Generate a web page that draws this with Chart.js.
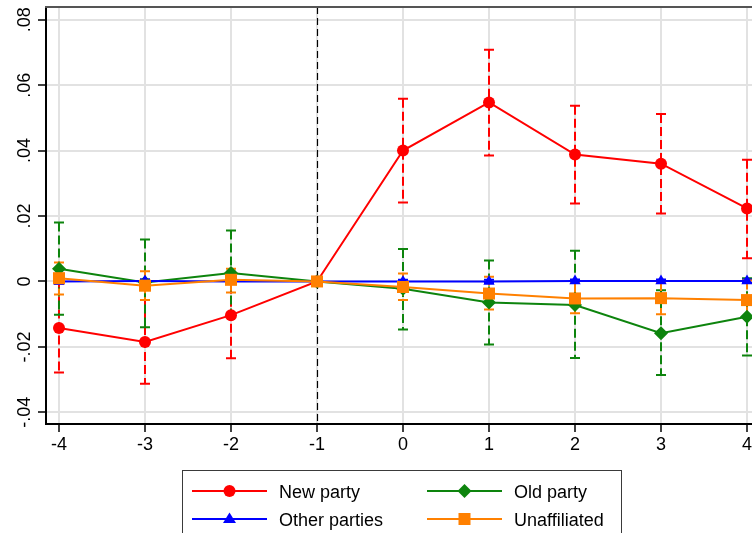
<!DOCTYPE html>
<html>
<head>
<meta charset="utf-8">
<script src="https://cdn.jsdelivr.net/npm/chart.js@4"></script>
<style>
  body { margin: 0; background: #fff; overflow: hidden; }
  #wrap { position: relative; width: 752px; height: 533px; font-family: Arial, "Liberation Sans", sans-serif; }
  #legend { position: absolute; left: 182px; top: 470px; width: 440px; height: 80px; border: 1px solid #3a3a3a; box-sizing: border-box; }
  .item { position: absolute; height: 20px; }
  .item svg { position: absolute; left: 0; }
  .item span { position: absolute; font-size: 18px; line-height: 20px; white-space: nowrap; color: #000; }
</style>
</head>
<body>
<div id="wrap">
  <canvas id="chart" width="752" height="533"></canvas>
  <div id="legend"></div>
</div>
<script>
"use strict";

// event time relative to the switch
const periods = [-4, -3, -2, -1, 0, 1, 2, 3, 4];

const newParty    = [-0.0142, -0.0185, -0.0103, 0, 0.0400, 0.0547, 0.0388, 0.0360, 0.0223];
const newPartyLo  = [-0.0278, -0.0313, -0.0235, 0, 0.0241, 0.0385, 0.0238, 0.0208, 0.0071];
const newPartyHi  = [-0.0006, -0.0057,  0.0030, 0, 0.0558, 0.0708, 0.0537, 0.0512, 0.0372];

const oldParty    = [0.0039, -0.0003, 0.0026, 0, -0.0022, -0.0064, -0.0072, -0.0158, -0.0108];
const oldPartyLo  = [-0.0102, -0.0140, -0.0104, 0, -0.0147, -0.0193, -0.0234, -0.0286, -0.0226];
const oldPartyHi  = [0.0180, 0.0128, 0.0156, 0, 0.0099, 0.0064, 0.0094, -0.0027, 0.0010];

const otherParties   = [0.0000, 0.0001, 0.0000, 0, 0.0000, 0.0000, 0.0001, 0.0001, 0.0001];
const otherPartiesLo = [-0.0006, -0.0005, -0.0006, 0, -0.0005, -0.0005, -0.0004, -0.0004, -0.0004];
const otherPartiesHi = [0.0006, 0.0007, 0.0006, 0, 0.0005, 0.0005, 0.0006, 0.0006, 0.0006];

const unaffiliated   = [0.0010, -0.0013, 0.0005, 0, -0.0017, -0.0037, -0.0052, -0.0051, -0.0057];
const unaffiliatedLo = [-0.0040, -0.0057, -0.0034, 0, -0.0057, -0.0086, -0.0097, -0.0100, -0.0110];
const unaffiliatedHi = [0.0058, 0.0031, 0.0039, 0, 0.0024, 0.0014, -0.0005, -0.0002, 0.0003];

const yTicks = [-0.04, -0.02, 0, 0.02, 0.04, 0.06, 0.08];
const yTickLabels = ["-.04", "-.02", "0", ".02", ".04", ".06", ".08"];
const xTickLabels = ["-4", "-3", "-2", "-1", "0", "1", "2", "3", "4"];

const series = [
    { label: "New party",     y: newParty,     lo: newPartyLo,     hi: newPartyHi,     color: "#ff0000", style: "circle",   radius: 6,   order: 4 },
    { label: "Old party",     y: oldParty,     lo: oldPartyLo,     hi: oldPartyHi,     color: "#0d840d", style: "rectRot",  radius: 7,   order: 3 },
    { label: "Other parties", y: otherParties, lo: otherPartiesLo, hi: otherPartiesHi, color: "#0000ff", style: "triangle", radius: 6.5, order: 2 },
    { label: "Unaffiliated",  y: unaffiliated, lo: unaffiliatedLo, hi: unaffiliatedHi, color: "#ff8000", style: "rect",     radius: 8.5, order: 1 }
];

const FONT = '18px Arial, "Liberation Sans", sans-serif';

// dashed confidence intervals with caps, reference line at -1, top frame and tick labels
const extras = {
    id: "extras",
    beforeDatasetsDraw(chart) {
        const ctx = chart.ctx;
        const xs = chart.scales.x;
        const ys = chart.scales.y;
        const area = chart.chartArea;

        ctx.save();
        ctx.strokeStyle = "#000";
        ctx.lineWidth = 1.2;
        ctx.setLineDash([7, 4]);
        const px = Math.round(xs.getPixelForValue(-1)) + 0.5;
        ctx.beginPath();
        ctx.moveTo(px, area.top);
        ctx.lineTo(px, area.bottom);
        ctx.stroke();
        ctx.restore();

        series.forEach(s => {
            ctx.save();
            ctx.strokeStyle = s.color;
            ctx.lineWidth = 2;
            periods.forEach((p, i) => {
                if (s.lo[i] === s.hi[i]) return;
                const x = xs.getPixelForValue(p);
                const yl = ys.getPixelForValue(s.lo[i]);
                const yh = ys.getPixelForValue(s.hi[i]);
                ctx.setLineDash([9, 4]);
                ctx.beginPath();
                ctx.moveTo(x, yh);
                ctx.lineTo(x, yl);
                ctx.stroke();
                ctx.setLineDash([]);
                ctx.beginPath();
                ctx.moveTo(x - 5, yh);
                ctx.lineTo(x + 5, yh);
                ctx.moveTo(x - 5, yl);
                ctx.lineTo(x + 5, yl);
                ctx.stroke();
            });
            ctx.restore();
        });
    },
    afterDraw(chart) {
        const ctx = chart.ctx;
        const xs = chart.scales.x;
        const ys = chart.scales.y;
        const area = chart.chartArea;

        ctx.save();
        ctx.strokeStyle = "#555";
        ctx.lineWidth = 2;
        ctx.beginPath();
        ctx.moveTo(area.left - 1, area.top);
        ctx.lineTo(area.right, area.top);
        ctx.stroke();

        ctx.fillStyle = "#000";
        ctx.font = FONT;
        ctx.textAlign = "center";
        ctx.textBaseline = "alphabetic";
        periods.forEach((p, i) => {
            ctx.fillText(xTickLabels[i], xs.getPixelForValue(p), 450);
        });
        yTicks.forEach((v, i) => {
            ctx.save();
            ctx.translate(30, ys.getPixelForValue(v));
            ctx.rotate(-Math.PI / 2);
            ctx.fillText(yTickLabels[i], 0, 0);
            ctx.restore();
        });
        ctx.restore();
    }
};

const ctx = document.getElementById("chart").getContext("2d");

new Chart(ctx, {
    type: "line",
    data: {
        datasets: series.map(s => ({
            label: s.label,
            data: periods.map((p, i) => ({ x: p, y: s.y[i] })),
            borderColor: s.color,
            backgroundColor: s.color,
            borderWidth: 2,
            pointStyle: s.style,
            pointRadius: s.radius,
            pointBorderWidth: 0,
            pointBackgroundColor: s.color,
            tension: 0,
            order: s.order
        }))
    },
    options: {
        responsive: false,
        animation: false,
        layout: {
            autoPadding: false,
            padding: { left: 38, top: 7, right: 0, bottom: 101 }
        },
        plugins: {
            legend: { display: false },
            tooltip: { enabled: false }
        },
        scales: {
            x: {
                type: "linear",
                min: -4.151,
                max: 4.058,
                afterBuildTicks: scale => { scale.ticks = periods.map(v => ({ value: v })); },
                ticks: { display: false },
                grid: { color: "#e2e2e2", lineWidth: 2, tickColor: "#000", tickLength: 8, tickWidth: 1.5 },
                border: { display: true, color: "#000", width: 2 }
            },
            y: {
                min: -0.04357,
                max: 0.08388,
                afterBuildTicks: scale => { scale.ticks = yTicks.map(v => ({ value: v })); },
                ticks: { display: false },
                grid: { color: "#e2e2e2", lineWidth: 2, tickColor: "#000", tickLength: 8, tickWidth: 1.5 },
                border: { display: true, color: "#000", width: 2 }
            }
        }
    },
    plugins: [extras]
});

// legend: two columns, line sample with the series marker
const legendPos = [
    { left: 9, top: 10 },    // New party
    { left: 244, top: 10 },  // Old party
    { left: 9, top: 38 },    // Other parties
    { left: 244, top: 38 }   // Unaffiliated
];

function markerSvg(s) {
    const c = s.color;
    let shape;
    if (s.style === "circle") shape = `<circle cx="37.5" cy="10" r="6" fill="${c}"/>`;
    else if (s.style === "rectRot") shape = `<polygon points="30.5,10 37.5,3 44.5,10 37.5,17" fill="${c}"/>`;
    else if (s.style === "triangle") shape = `<polygon points="37.5,3.5 44,14 31,14" fill="${c}"/>`;
    else shape = `<rect x="31.5" y="4" width="12" height="12" fill="${c}"/>`;
    return `<svg width="75" height="20"><line x1="0" y1="10" x2="75" y2="10" stroke="${c}" stroke-width="2"/>${shape}</svg>`;
}

const legendEl = document.getElementById("legend");
series.forEach((s, i) => {
    const item = document.createElement("div");
    item.className = "item";
    item.style.left = legendPos[i].left + "px";
    item.style.top = legendPos[i].top + "px";
    item.innerHTML = markerSvg(s) + `<span style="left:87px; top:1px">${s.label}</span>`;
    legendEl.appendChild(item);
});
</script>
</body>
</html>
